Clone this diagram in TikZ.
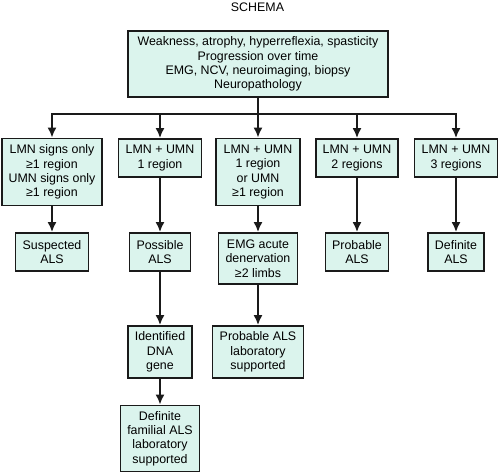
\documentclass[tikz,border=0pt]{standalone}
\usepackage{fontspec}
\setmainfont{Liberation Sans}
\usetikzlibrary{arrows.meta}
\definecolor{boxfill}{HTML}{DBF4ED}
\definecolor{boxline}{HTML}{1A1A1A}
\tikzset{
  box/.style={draw=boxline, fill=boxfill, line width=1.8pt, inner sep=0pt,
    align=center, font=\fontsize{12.4}{14.3}\selectfont},
  conn/.style={draw=boxline, line width=1.8pt},
  arr/.style={conn, -{Latex[length=10pt,width=9pt]}},
}
\begin{document}
\begin{tikzpicture}[x=1pt,y=-1pt]
\useasboundingbox (0,0) rectangle (500,473);
\node[font=\fontsize{12.4}{14.3}\selectfont, anchor=base] (title) at (257.5,11.5) {SCHEMA};
\node[box, minimum width=260pt, minimum height=66pt] (top) at (258,64)
  {Weakness, atrophy, hyperreflexia, spasticity\\Progression over time\\EMG, NCV, neuroimaging, biopsy\\Neuropathology};
% row 1
\node[box, minimum width=100pt, minimum height=67pt] (A) at (52,172)
  {LMN signs only\\≥1 region\\UMN signs only\\≥1 region};
\node[box, minimum width=83pt, minimum height=38pt] (B) at (160,158)
  {LMN + UMN\\1 region};
\node[box, minimum width=84pt, minimum height=67pt] (C) at (258,172)
  {LMN + UMN\\1 region\\or UMN\\≥1 region};
\node[box, minimum width=82pt, minimum height=38pt] (D) at (357,158)
  {LMN + UMN\\2 regions};
\node[box, minimum width=83pt, minimum height=38pt] (E) at (456,158)
  {LMN + UMN\\3 regions};
% row 2
\node[box, minimum width=73pt, minimum height=38pt] (SA) at (52,252)
  {Suspected\\ALS};
\node[box, minimum width=61pt, minimum height=38pt] (PA) at (160,252)
  {Possible\\ALS};
\node[box, minimum width=79pt, minimum height=51pt] (EMG) at (258,258.5)
  {EMG acute\\denervation\\≥2 limbs};
\node[box, minimum width=63pt, minimum height=38pt] (PrA) at (357,252)
  {Probable\\ALS};
\node[box, minimum width=56pt, minimum height=38pt] (DA) at (456,252)
  {Definite\\ALS};
% row 3
\node[box, minimum width=64pt, minimum height=52pt] (DNA) at (160,352)
  {Identified\\DNA\\gene};
\node[box, minimum width=91pt, minimum height=52pt] (PL) at (258,352)
  {Probable ALS\\laboratory\\supported};
% row 4
\node[box, minimum width=79pt, minimum height=66pt] (FAM) at (160,438.5)
  {Definite\\familial ALS\\laboratory\\supported};
% connectors
\draw[conn] (top.south) -- ++(0,16) coordinate (hub);
\foreach \n in {A,B,C,D,E} \draw[arr] (hub) -| (\n.north);
\draw[arr] (A.south) -- (SA.north);
\draw[arr] (B.south) -- (PA.north);
\draw[arr] (PA.south) -- (DNA.north);
\draw[arr] (DNA.south) -- (FAM.north);
\draw[arr] (C.south) -- (EMG.north);
\draw[arr] (EMG.south) -- (PL.north);
\draw[arr] (D.south) -- (PrA.north);
\draw[arr] (E.south) -- (DA.north);
\end{tikzpicture}
\end{document}
